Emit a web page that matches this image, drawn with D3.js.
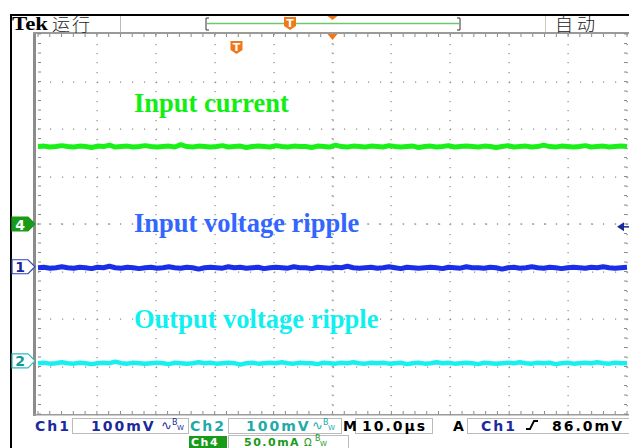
<!DOCTYPE html>
<html><head><meta charset="utf-8">
<script src="https://cdn.jsdelivr.net/npm/d3@7"></script>
<style>
html,body{margin:0;padding:0;background:#fff;}
svg{display:block;}
text{font-family:"DejaVu Sans",sans-serif;}
</style></head>
<body>
<script>
// ---- data (divisions, time in divisions 0..10) ----
const ch4Current = [1.63,1.64,1.62,1.63,1.65,1.63,1.62,1.64,1.63,1.61,1.64,1.63,1.66,1.62,1.63,1.64,1.62,1.63,1.65,1.63,1.62,1.63,1.64,1.62,1.67,1.63,1.62,1.64,1.63,1.62,1.63,1.65,1.62,1.63,1.64,1.61,1.63,1.64,1.63,1.62,1.65,1.63,1.62,1.64,1.63,1.63,1.61,1.64,1.63,1.62,1.66,1.63,1.62,1.64,1.63,1.62,1.64,1.63,1.62,1.65,1.63,1.62,1.63,1.64,1.61,1.63,1.64,1.62,1.63,1.65,1.62,1.63,1.64,1.63,1.62,1.64,1.63,1.61,1.63,1.65,1.62,1.63,1.64,1.62,1.63,1.66,1.63,1.62,1.64,1.63,1.62,1.63,1.65,1.62,1.63,1.64,1.62,1.63,1.64,1.63];
const ch1InputRipple = [-0.92,-0.91,-0.93,-0.92,-0.90,-0.92,-0.93,-0.91,-0.92,-0.94,-0.91,-0.92,-0.89,-0.92,-0.93,-0.91,-0.92,-0.94,-0.92,-0.91,-0.93,-0.92,-0.90,-0.92,-0.93,-0.91,-0.92,-0.95,-0.92,-0.91,-0.92,-0.93,-0.90,-0.92,-0.91,-0.93,-0.92,-0.91,-0.94,-0.92,-0.91,-0.92,-0.93,-0.90,-0.92,-0.92,-0.94,-0.91,-0.92,-0.93,-0.91,-0.92,-0.89,-0.92,-0.93,-0.92,-0.91,-0.93,-0.92,-0.90,-0.92,-0.94,-0.91,-0.92,-0.93,-0.92,-0.91,-0.92,-0.94,-0.91,-0.92,-0.93,-0.90,-0.92,-0.92,-0.93,-0.91,-0.92,-0.95,-0.92,-0.91,-0.93,-0.92,-0.90,-0.92,-0.93,-0.91,-0.92,-0.94,-0.92,-0.91,-0.92,-0.93,-0.91,-0.92,-0.90,-0.92,-0.93,-0.92,-0.91];
const ch2OutputRipple = [-2.93,-2.92,-2.94,-2.93,-2.91,-2.93,-2.94,-2.92,-2.93,-2.95,-2.93,-2.92,-2.93,-2.90,-2.93,-2.94,-2.92,-2.93,-2.94,-2.93,-2.92,-2.93,-2.95,-2.92,-2.93,-2.94,-2.93,-2.91,-2.93,-2.92,-2.94,-2.93,-2.92,-2.93,-2.96,-2.93,-2.92,-2.94,-2.93,-2.92,-2.93,-2.91,-2.93,-2.94,-2.92,-2.93,-2.93,-2.95,-2.92,-2.93,-2.94,-2.92,-2.93,-2.91,-2.93,-2.94,-2.92,-2.93,-2.92,-2.94,-2.93,-2.92,-2.95,-2.93,-2.92,-2.94,-2.93,-2.91,-2.93,-2.92,-2.94,-2.93,-2.92,-2.93,-2.95,-2.92,-2.93,-2.94,-2.93,-2.92,-2.93,-2.91,-2.93,-2.94,-2.92,-2.93,-2.92,-2.95,-2.93,-2.92,-2.94,-2.93,-2.92,-2.93,-2.91,-2.93,-2.94,-2.92,-2.93,-2.93];
const channelMarkers = [{ch:"4", level:0.0}, {ch:"1", level:-0.90}, {ch:"2", level:-2.88}];
const annotations = ["Input current", "Input voltage ripple", "Output voltage ripple"];
const annotationLevels = [2.36, -0.17, -2.18];
const triggerLevel = -0.06;   // divisions
const triggerTime = 5;        // divisions
const triggerPosMarker = 3.37; // T badge on the screen
const statusRun = "运行", statusMode = "自 动";
const ch1Scale = "100mV", ch2Scale = "100mV", ch4Scale = "50.0mA", timebase = "10.0\u03bcs", trigValue = "86.0mV";

const W = 629, H = 448;
const svg = d3.select("body").append("svg").attr("width", W).attr("height", H);
const x = d3.scaleLinear().domain([0,10]).range([38,627]);
const y = d3.scaleLinear().domain([-4,4]).range([414,34]);

// frame lines
svg.append("rect").attr("x",10).attr("y",14).attr("width",W-10).attr("height",2).attr("fill","#000");
svg.append("rect").attr("x",10).attr("y",14).attr("width",2).attr("height",H-14).attr("fill","#000");

// graticule
const g = svg.append("g");
const dotC = "#8a8a8a";
g.append("rect").attr("x",33).attr("y",y(4)-2).attr("width",3).attr("height",y(-4)-y(4)+4).attr("fill","#8c8c8c");
g.append("rect").attr("x",33).attr("y",y(4)-2).attr("width",W-33).attr("height",2).attr("fill","#9a9a9a");
g.append("rect").attr("x",33).attr("y",y(-4)).attr("width",W-33).attr("height",1.5).attr("fill","#9a9a9a");
const minorX = d3.range(0, 50.01, 1).map(i=>i/5);
const minorY = d3.range(0, 40.01, 1).map(i=>-4 + i/5);
for (let i=1;i<=10;i++){
  minorY.forEach(v=>{ g.append("rect").attr("x",Math.round(x(i))-0.5).attr("y",Math.round(y(v))).attr("width",1.2).attr("height",1.2).attr("fill",dotC); });
}
for (let j=-3;j<=3;j++){
  minorX.forEach(v=>{ g.append("rect").attr("x",Math.round(x(v))).attr("y",Math.round(y(j))-0.5).attr("width",1.2).attr("height",1.2).attr("fill",dotC); });
}
minorX.forEach(v=>{
  g.append("line").attr("x1",x(v)).attr("x2",x(v)).attr("y1",y(4)).attr("y2",y(4)+3).attr("stroke",dotC);
  g.append("line").attr("x1",x(v)).attr("x2",x(v)).attr("y1",y(-4)-3).attr("y2",y(-4)).attr("stroke",dotC);
  g.append("line").attr("x1",x(v)).attr("x2",x(v)).attr("y1",y(0)-1).attr("y2",y(0)+1).attr("stroke","#aaa");
});
minorY.forEach(v=>{
  g.append("line").attr("y1",y(v)).attr("y2",y(v)).attr("x1",x(0)).attr("x2",x(0)+3).attr("stroke",dotC);
  g.append("line").attr("y1",y(v)).attr("y2",y(v)).attr("x1",x(10)-3).attr("x2",x(10)).attr("stroke",dotC);
  g.append("line").attr("y1",y(v)).attr("y2",y(v)).attr("x1",x(5)-1).attr("x2",x(5)+1).attr("stroke","#aaa");
});

// traces
const line = d3.line().x((d,i,arr)=>x(i*10/(arr.length-1))).y(d=>y(d));
function trace(data,color,w){
  svg.append("path").datum(data).attr("d",line).attr("fill","none").attr("stroke",color).attr("stroke-width",w).attr("stroke-linejoin","bevel");
}
trace(ch4Current,"#18f018",5);
trace(ch1InputRipple,"#1a2ee8",5);
trace(ch2OutputRipple,"#18f0f0",4.5);

// annotations
const annColors = ["#11ee11","#3366ff","#11f0f0"];
annotations.forEach((t,i)=>{
  svg.append("text").attr("x",134).attr("y",y(annotationLevels[i])).text(t)
    .attr("fill",annColors[i]).style("font-family","'Liberation Serif',serif").style("font-weight","bold").style("font-size","26.5px");
});

// channel markers
const mStyle = {"4":{fill:"#1a9a1a",stroke:"#1a9a1a",txt:"#fff"},"1":{fill:"#fff",stroke:"#3344bb",txt:"#1a2a9a"},"2":{fill:"#fff",stroke:"#33bbbb",txt:"#139999"}};
channelMarkers.forEach(m=>{
  const cy = y(m.level), s = mStyle[m.ch];
  svg.append("path").attr("d",`M12,${cy-7}H28L35,${cy}L28,${cy+7}H12Z`).attr("fill",s.fill).attr("stroke",s.stroke).attr("stroke-width",1.2);
  svg.append("text").attr("x",20).attr("y",cy+5.5).attr("text-anchor","middle").text(m.ch).attr("fill",s.txt).style("font-weight","bold").style("font-size","14px");
});
const ty = y(triggerLevel);
svg.append("path").attr("d",`M617,${ty}L624,${ty-4.5}L624,${ty+4.5}Z`).attr("fill","#1a2a9a");
svg.append("line").attr("x1",622).attr("x2",629).attr("y1",ty).attr("y2",ty).attr("stroke","#1a2a9a").attr("stroke-width",1.5);

// trigger time marker (orange)
const orange = "#f07818";
const tx = x(triggerTime);
svg.append("path").attr("d",`M${tx-5},${y(4)}L${tx+5},${y(4)}L${tx},${y(4)+6}Z`).attr("fill",orange);
svg.append("path").attr("d",`M${tx-5},16L${tx+5},16L${tx},20Z`).attr("fill",orange);
function tBadge(cx,cy){
  svg.append("path").attr("d",`M${cx-6},${cy-6}H${cx+6}V${cy+3}L${cx},${cy+7}L${cx-6},${cy+3}Z`).attr("fill",orange);
  svg.append("text").attr("x",cx).attr("y",cy+4).attr("text-anchor","middle").text("T").attr("fill","#fff").style("font-weight","bold").style("font-size","11px");
}
tBadge(x(triggerPosMarker),47);

// top status bar
svg.append("text").attr("x",12).attr("y",30).text("Tek").attr("textLength",36).attr("lengthAdjust","spacingAndGlyphs").style("font-family","'Liberation Serif',serif").style("font-weight","bold").style("font-size","18px").attr("fill","#000");
svg.append("text").attr("x",52).attr("y",31).text(statusRun).style("font-family","'Noto Sans CJK SC'").style("font-weight","300").style("font-size","18px").style("letter-spacing","2px").attr("fill","#222");
svg.append("line").attr("x1",120.5).attr("x2",120.5).attr("y1",16).attr("y2",32).attr("stroke","#bbb");
svg.append("line").attr("x1",545.5).attr("x2",545.5).attr("y1",16).attr("y2",32).attr("stroke","#ccc");
svg.append("line").attr("x1",207).attr("x2",459).attr("y1",23.5).attr("y2",23.5).attr("stroke","#6cc66c").attr("stroke-width",1.5);
svg.append("path").attr("d","M209,18H206V30H209").attr("fill","none").attr("stroke","#333").attr("stroke-width",1);
svg.append("path").attr("d","M457,18H460V30H457").attr("fill","none").attr("stroke","#333").attr("stroke-width",1);
tBadge(290,23);
svg.append("text").attr("x",555).attr("y",31).text(statusMode).style("font-family","'Noto Sans CJK SC'").style("font-weight","300").style("font-size","18px").attr("fill","#222");

// bottom bar
const bf = (sel,size,ls)=>sel.style("font-family","'DejaVu Sans'").style("font-weight","bold").style("font-size",(size||14)+"px").style("letter-spacing",(ls||2)+"px");
const boxes = [[72,188],[228,341],[355,432],[467,629]];
boxes.forEach(([a,b])=>svg.append("rect").attr("x",a+0.5).attr("y",418.5).attr("width",b-a).attr("height",15).attr("fill","none").attr("stroke","#bbb"));
svg.append("rect").attr("x",228.5).attr("y",435.5).attr("width",120).attr("height",14).attr("fill","none").attr("stroke","#bbb");
bf(svg.append("text").attr("x",35).attr("y",431).text("Ch1").attr("fill","#1a2aa0"));
bf(svg.append("text").attr("x",91).attr("y",431).text(ch1Scale).attr("fill","#1a2a9a"));
bf(svg.append("text").attr("x",190).attr("y",431).text("Ch2").attr("fill","#22aaaa"));
bf(svg.append("text").attr("x",246).attr("y",431).text(ch2Scale).attr("fill","#22aaaa"));
bf(svg.append("text").attr("x",343).attr("y",431).text("M").attr("fill","#000"));
bf(svg.append("text").attr("x",362).attr("y",431).text(timebase).attr("fill","#000"));
bf(svg.append("text").attr("x",453).attr("y",431).text("A").attr("fill","#000"));
bf(svg.append("text").attr("x",481).attr("y",431).text("Ch1").attr("fill","#1a2aa0"));
bf(svg.append("text").attr("x",552).attr("y",431).text(trigValue).attr("fill","#000"));
svg.append("path").attr("d","M526,429H530L534,421H538").attr("fill","none").attr("stroke","#000").attr("stroke-width",1.8);
function sym(x0,color,wave,yy,fs){
  svg.append("text").attr("x",x0).attr("y",yy).text(wave).attr("fill",color).style("font-size",(fs||13)+"px");
  svg.append("text").attr("x",x0+11).attr("y",yy-5).text("B").attr("fill",color).style("font-size","8px");
  svg.append("text").attr("x",x0+16).attr("y",yy).text("W").attr("fill",color).style("font-size","7px");
}
sym(161,"#1a2a9a","\u223f",430);
sym(312,"#22aaaa","\u223f",430);
svg.append("rect").attr("x",189).attr("y",436).attr("width",38).attr("height",12).attr("fill","#1a9a1a");
bf(svg.append("text").attr("x",191).attr("y",445.5).text("Ch4").attr("fill","#fff"),11,1.5);
bf(svg.append("text").attr("x",244).attr("y",445.5).text(ch4Scale).attr("fill","#1a9a1a"),11,1.5);
sym(304,"#1a9a1a","\u03a9",445.5,10);
</script>
</body></html>
